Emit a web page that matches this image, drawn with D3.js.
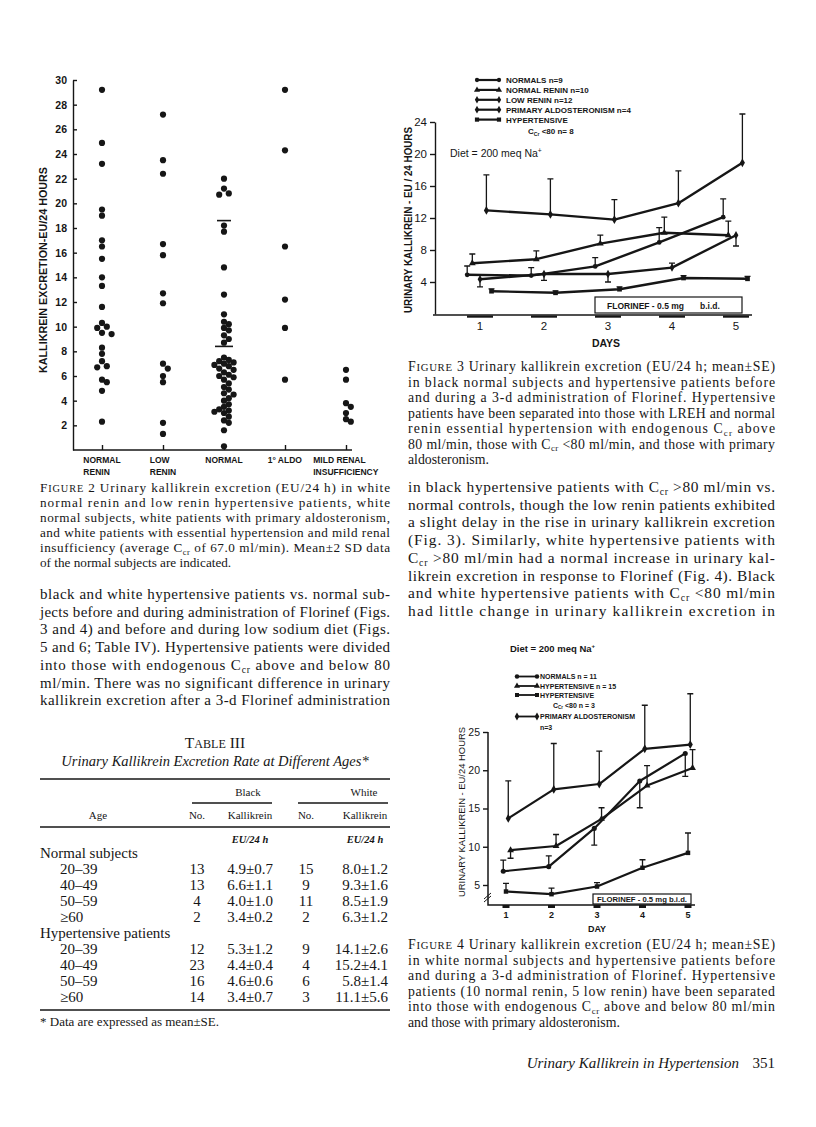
<!DOCTYPE html>
<html>
<head>
<meta charset="utf-8">
<script src="https://cdnjs.cloudflare.com/ajax/libs/d3/7.8.5/d3.min.js"></script>
<style>
  body { margin: 0; background: #fff; }
</style>
</head>
<body>
<div id="page"></div>
<script>
// ---- figure 2 : kallikrein excretion, EU/24 h, one array per group ----
var fig2Labels = [["NORMAL", "RENIN"], ["LOW", "RENIN"], ["NORMAL"], ["1° ALDO"], ["MILD RENAL", "INSUFFICIENCY"]];
var normalReninVals = [29.2, 24.9, 23.2, 19.5, 19.0, 17.0, 16.5, 15.5, 14.0, 13.3, 11.6, 10.3, 10.0, 9.9, 9.5, 9.4, 8.3, 7.8, 7.2, 6.8, 6.7, 5.7, 5.5, 4.8, 2.3];
var lowReninVals = [27.2, 23.5, 22.4, 16.7, 15.8, 12.7, 11.9, 7.0, 6.6, 6.0, 5.5, 2.2, 1.3];
var normalVals = [22.0, 21.2, 20.8, 20.7, 18.2, 17.7, 14.8, 12.6, 11.0, 10.4, 10.2, 9.9, 9.7, 9.3, 9.0, 8.7,
  7.5, 7.3, 7.2, 7.1, 7.0, 6.9, 6.8, 6.6, 6.5, 6.3, 6.1, 6.0, 5.9, 5.7, 5.4, 5.1, 4.9, 4.6, 4.5, 4.2, 4.0,
  3.7, 3.5, 3.3, 3.2, 3.1, 3.0, 2.7, 2.4, 2.2, 1.6, 0.3];
var aldoVals = [29.2, 24.3, 16.5, 12.2, 9.9, 5.7];
var renalVals = [6.5, 5.7, 3.8, 3.5, 3.0, 2.5, 2.3];
var fig2Ticks = d3.range(2, 31, 2);
var normalMean = 8.4;
var normalTwoSD = 10.2;

// ---- figure 3 : black subjects, mean and SE (negative SE = bar drawn below) ----
var days = [1, 2, 3, 4, 5];
var fig3Names = ["NORMALS  n=9", "NORMAL RENIN  n=10", "LOW RENIN  n=12", "PRIMARY ALDOSTERONISM  n=4", "HYPERTENSIVE"];
var fig3Normals = [4.9, 4.8, 5.95, 8.95, 12.1];
var fig3NormalsSE = [1.1, 1.0, 1.1, 1.85, 2.3];
var fig3NormalRenin = [6.35, 6.85, 8.8, 10.15, 9.85];
var fig3NormalReninSE = [1.15, 1.05, 1.05, 1.95, 1.75];
var fig3LowRenin = [4.35, 5.0, 5.0, 5.8, 9.85];
var fig3LowReninSE = [-0.95, -0.8, -1.0, 0.55, -1.35];
var fig3Aldo = [12.95, 12.45, 11.8, 13.85, 18.9];
var fig3AldoSE = [4.45, 4.45, 2.5, 4.05, 6.1];
var fig3LowCcr = [2.85, 2.65, 3.1, 4.5, 4.4];
var fig3LowCcrSE = [0.3, 0.25, 0.3, 0.3, 0.3];
var fig3Ticks = [4, 8, 12, 16, 20, 24];

// ---- figure 4 : white subjects ----
var fig4Names = ["NORMALS  n = 11", "HYPERTENSIVE  n = 15", "HYPERTENSIVE", "PRIMARY ALDOSTERONISM"];
var fig4Normals = [6.8, 7.4, 12.4, 18.6, 22.2];
var fig4NormalsSE = [1.45, 1.4, -2.2, -3.5, -3.0];
var fig4Hyper = [9.55, 10.1, 13.65, 18.0, 20.3];
var fig4HyperSE = [-1.05, 1.5, 1.45, 2.6, 2.4];
var fig4LowCcr = [4.15, 3.8, 4.8, 7.25, 9.2];
var fig4LowCcrSE = [1.05, 0.8, 0.5, 1.05, 2.6];
var fig4Aldo = [13.7, 17.5, 18.2, 22.8, 23.35];
var fig4AldoSE = [4.9, 6.0, 4.3, 5.7, 6.65];
var fig4Ticks = [5, 10, 15, 20, 25];

// ---- table III ----
var ageGroups = ["20–39", "40–49", "50–59", "≥60"];
var normBlackN = [13, 13, 4, 2];
var normBlackMean = [4.9, 6.6, 4.0, 3.4];
var normBlackSE = [0.7, 1.1, 1.0, 0.2];
var normWhiteN = [15, 9, 11, 2];
var normWhiteMean = [8.0, 9.3, 8.5, 6.3];
var normWhiteSE = [1.2, 1.6, 1.9, 1.2];
var hypBlackN = [12, 23, 16, 14];
var hypBlackMean = [5.3, 4.4, 4.6, 3.4];
var hypBlackSE = [1.2, 0.4, 0.6, 0.7];
var hypWhiteN = [9, 4, 6, 3];
var hypWhiteMean = [14.1, 15.2, 5.8, 11.1];
var hypWhiteSE = [2.6, 4.1, 1.4, 5.6];

// ---- running text (_{..} subscript, ^{..} superscript, ~{..} small caps) ----
var fig2Caption = [
  "F~{IGURE} 2   Urinary kallikrein excretion (EU/24 h) in white",
  "normal renin and low renin hypertensive patients, white",
  "normal subjects, white patients with primary aldosteronism,",
  "and white patients with essential hypertension and mild renal",
  "insufficiency (average C_{cr} of 67.0 ml/min). Mean±2 SD data",
  "of the normal subjects are indicated."];
var leftBody = [
  "black and white hypertensive patients vs. normal sub-",
  "jects before and during administration of Florinef (Figs.",
  "3 and 4) and before and during low sodium diet (Figs.",
  "5 and 6; Table IV). Hypertensive patients were divided",
  "into those with endogenous C_{cr} above and below 80",
  "ml/min. There was no significant difference in urinary",
  "kallikrein excretion after a 3-d Florinef administration"];
var fig3Caption = [
  "F~{IGURE} 3   Urinary kallikrein excretion (EU/24 h; mean±SE)",
  "in black normal subjects and hypertensive patients before",
  "and during a 3-d administration of Florinef. Hypertensive",
  "patients have been separated into those with LREH and normal",
  "renin essential hypertension with endogenous C_{cr} above",
  "80 ml/min, those with C_{cr} <80 ml/min, and those with primary",
  "aldosteronism."];
var rightBody = [
  "in black hypertensive patients with C_{cr} >80 ml/min vs.",
  "normal controls, though the low renin patients exhibited",
  "a slight delay in the rise in urinary kallikrein excretion",
  "(Fig. 3). Similarly, white hypertensive patients with",
  "C_{cr} >80 ml/min had a normal increase in urinary kal-",
  "likrein excretion in response to Florinef (Fig. 4). Black",
  "and white hypertensive patients with C_{cr} <80 ml/min",
  "had little change in urinary kallikrein excretion in"];
var fig4Caption = [
  "F~{IGURE} 4   Urinary kallikrein excretion (EU/24 h; mean±SE)",
  "in white normal subjects and hypertensive patients before",
  "and during a 3-d administration of Florinef. Hypertensive",
  "patients (10 normal renin, 5 low renin) have been separated",
  "into those with endogenous C_{cr} above and below 80 ml/min",
  "and those with primary aldosteronism."];

var ink = "#161616";
var serif = '"Liberation Serif", "Times New Roman", serif';
var sans = '"Liberation Sans", Arial, sans-serif';

var svg = d3.select("#page").append("svg")
  .attr("width", 816)
  .attr("height", 1127);

svg.append("rect").attr("width", 816).attr("height", 1127).attr("fill", "#fff");

//write a string with the little markup into a text element
function richText(sel, str, size) {
  var shift = 0;
  str.split(/([_~^]\{[^}]*\})/).forEach(function(p) {
    if (!p) return;
    var m = p.match(/^([_~^])\{([^}]*)\}$/);
    var t = sel.append("tspan");
    if (!m) {
      t.attr("dy", -shift).text(p);
      shift = 0;
    }
    else if (m[1] === "~") {
      t.attr("dy", -shift).attr("font-size", size * 0.78).text(m[2]);
      shift = 0;
    }
    else {
      var s = m[1] === "_" ? size * 0.2 : -size * 0.4;
      t.attr("dy", s - shift).attr("font-size", size * 0.64).text(m[2]);
      shift = s;
    }
  });
  return sel;
}

//justified block of serif text
function textBlock(lines, x, y0, lead, width, size, justifyLast) {
  lines.forEach(function(line, i) {
    var t = svg.append("text")
      .attr("x", x)
      .attr("y", y0 + i * lead)
      .attr("font-family", serif)
      .attr("font-size", size)
      .attr("fill", ink);
    richText(t, line, size);
    if (i < lines.length - 1 || justifyLast) {
      t.attr("textLength", width).attr("lengthAdjust", "spacing");
    }
  });
}

function styleAxis(g, size, weight) {
  g.attr("font-family", sans)
    .attr("font-size", size)
    .attr("font-weight", weight);
  g.selectAll("path, line").attr("stroke", ink).attr("stroke-width", 1.4);
  g.selectAll("text").attr("fill", ink);
}

function sansText(g, x, y, str, size, weight) {
  var t = g.append("text")
    .attr("x", x)
    .attr("y", y)
    .attr("font-family", sans)
    .attr("font-size", size)
    .attr("font-weight", weight || "bold")
    .attr("fill", ink);
  return richText(t, str, size);
}

// ================= FIGURE 2 =================
var fig2 = svg.append("g");
var f2y = d3.scaleLinear().domain([0, 30]).range([450, 80]);
var f2x = d3.scalePoint().domain(d3.range(fig2Labels.length)).range([102, 346]);

fig2.append("g")
  .attr("transform", "translate(73,0)")
  .call(d3.axisLeft(f2y).tickValues(fig2Ticks).tickSizeInner(-4).tickSizeOuter(0).tickPadding(6))
  .call(styleAxis, 10.5, "bold");

fig2.append("line")
  .attr("x1", 73).attr("x2", 352)
  .attr("y1", f2y(0)).attr("y2", f2y(0))
  .attr("stroke", ink).attr("stroke-width", 1.4);

fig2.append("g")
  .attr("transform", `translate(0,${f2y(0)})`)
  .call(d3.axisBottom(f2x).tickSizeInner(-5).tickSizeOuter(0).tickFormat(""))
  .call(function(g) { g.select(".domain").remove(); })
  .call(styleAxis, 10, "bold");

fig2.append("text")
  .attr("transform", "translate(47,270) rotate(-90)")
  .attr("text-anchor", "middle")
  .attr("font-family", sans)
  .attr("font-weight", "bold")
  .attr("font-size", 10)
  .attr("fill", ink)
  .attr("textLength", 206)
  .attr("lengthAdjust", "spacingAndGlyphs")
  .text("KALLIKREIN EXCRETION-EU/24 HOURS");

//category labels, left aligned block centred on the column
fig2Labels.forEach(function(lines, i) {
  var t = fig2.append("text")
    .attr("y", 463)
    .attr("font-family", sans)
    .attr("font-weight", "bold")
    .attr("font-size", 8.5)
    .attr("fill", ink);
  lines.forEach(function(s, j) {
    t.append("tspan").attr("x", 0).attr("dy", j ? 11.5 : 0).text(s);
  });
  var w = t.node().getBBox().width;
  t.selectAll("tspan").attr("x", f2x(i) - w / 2);
});

//dodge overlapping dots sideways like a hand plot
function swarm(vals, cx) {
  var placed = [];
  var lanes = [0, 1, -1, 2, -2, 3, -3];
  return vals.slice().sort(d3.descending).map(function(v) {
    var cy = f2y(v);
    var k = 0;
    for (k = 0; k < lanes.length - 1; k++) {
      var x = cx + lanes[k] * 4.8;
      var hit = placed.some(function(p) { return Math.hypot(p.x - x, p.y - cy) < 5.2; });
      if (!hit) break;
    }
    var pt = {x: cx + lanes[k] * 4.8, y: cy};
    placed.push(pt);
    return pt;
  });
}

var fig2Groups = [normalReninVals, lowReninVals, normalVals, aldoVals, renalVals];
fig2Groups.forEach(function(vals, i) {
  fig2.selectAll(null)
    .data(swarm(vals, f2x(i)))
    .enter()
    .append("circle")
    .attr("cx", d => d.x)
    .attr("cy", d => d.y)
    .attr("r", 3.1)
    .attr("fill", ink);
});

//mean and mean + 2 SD of the normals
[[normalMean, 18], [normalMean + normalTwoSD, 14]].forEach(function(m) {
  fig2.append("line")
    .attr("x1", f2x(2) - m[1] / 2).attr("x2", f2x(2) + m[1] / 2)
    .attr("y1", f2y(m[0])).attr("y2", f2y(m[0]))
    .attr("stroke", ink).attr("stroke-width", 1.6);
});

// ============ shared drawing for figures 3 and 4 ============
function drawSeries(g, xs, ys, series, lw, cap) {
  series.forEach(function(s) {
    var pts = s.vals.map(function(v, i) {
      return {day: days[i] + s.off, v: v, se: s.se[i]};
    });
    g.append("path")
      .datum(pts)
      .attr("d", d3.line().x(d => xs(d.day)).y(d => ys(d.v)))
      .attr("fill", "none")
      .attr("stroke", ink)
      .attr("stroke-width", lw)
      .attr("stroke-linejoin", "round");
    g.selectAll(null)
      .data(pts)
      .enter()
      .append("path")
      .attr("d", function(d) {
        var x = xs(d.day), y0 = ys(d.v), y1 = ys(d.v + d.se);
        return `M${x},${y0}V${y1}M${x - cap},${y1}H${x + cap}`;
      })
      .attr("fill", "none")
      .attr("stroke", ink)
      .attr("stroke-width", 1.3);
    g.selectAll(null)
      .data(pts)
      .enter()
      .append("path")
      .attr("transform", d => `translate(${xs(d.day)},${ys(d.v)})`)
      .attr("d", d3.symbol().type(s.symbol).size(s.size))
      .attr("fill", ink);
  });
}

function legendRow(g, x1, x2, y, s, lw) {
  g.append("line")
    .attr("x1", x1).attr("x2", x2)
    .attr("y1", y).attr("y2", y)
    .attr("stroke", ink).attr("stroke-width", lw);
  [x1, x2].forEach(function(x) {
    g.append("path")
      .attr("transform", `translate(${x},${y})`)
      .attr("d", d3.symbol().type(s.symbol).size(s.size * 0.8))
      .attr("fill", ink);
  });
}

// ================= FIGURE 3 =================
var fig3 = svg.append("g");
var f3x = d3.scaleLinear().domain([1, 5]).range([480, 736]);
var f3y = d3.scaleLinear().domain([0, 24]).range([314, 122]);

var fig3Series = [
  {vals: fig3Normals, se: fig3NormalsSE, off: -0.2, symbol: d3.symbolCircle, size: 18},
  {vals: fig3NormalRenin, se: fig3NormalReninSE, off: -0.12, symbol: d3.symbolTriangle, size: 20},
  {vals: fig3LowRenin, se: fig3LowReninSE, off: 0, symbol: d3.symbolDiamond, size: 20},
  {vals: fig3Aldo, se: fig3AldoSE, off: 0.1, symbol: d3.symbolDiamond, size: 22},
  {vals: fig3LowCcr, se: fig3LowCcrSE, off: 0.18, symbol: d3.symbolSquare, size: 22}
];

fig3.append("g")
  .attr("transform", "translate(435,0)")
  .call(d3.axisLeft(f3y).tickValues(fig3Ticks).tickSizeInner(5).tickSizeOuter(0).tickPadding(3))
  .call(styleAxis, 11.5, "normal");

fig3.append("line")
  .attr("x1", 433).attr("x2", 752)
  .attr("y1", 315).attr("y2", 315)
  .attr("stroke", ink).attr("stroke-width", 1.6);

fig3.selectAll(null)
  .data(days)
  .enter()
  .append("rect")
  .attr("x", d => f3x(d) - 13)
  .attr("y", 315.5)
  .attr("width", 26)
  .attr("height", 2.2)
  .attr("fill", ink);

fig3.selectAll(null)
  .data(days)
  .enter()
  .append("text")
  .attr("x", d => f3x(d))
  .attr("y", 330)
  .attr("text-anchor", "middle")
  .attr("font-family", sans)
  .attr("font-size", 11.5)
  .attr("fill", ink)
  .text(d => d);

sansText(fig3, 606, 347, "DAYS", 10.5).attr("text-anchor", "middle");

fig3.append("text")
  .attr("transform", "translate(412,220) rotate(-90)")
  .attr("text-anchor", "middle")
  .attr("font-family", sans)
  .attr("font-weight", "bold")
  .attr("font-size", 10)
  .attr("fill", ink)
  .attr("textLength", 186)
  .attr("lengthAdjust", "spacingAndGlyphs")
  .text("URINARY KALLIKREIN - EU / 24 HOURS");

//florinef box
fig3.append("rect")
  .attr("x", 595).attr("y", 297)
  .attr("width", 147).attr("height", 16)
  .attr("fill", "#fff")
  .attr("stroke", ink).attr("stroke-width", 1.2);
sansText(fig3, 607, 309, "FLORINEF  -  0.5 mg", 8.5);
sansText(fig3, 700, 309, "b.i.d.", 8.5);

drawSeries(fig3, f3x, f3y, fig3Series, 2.4, 3);

fig3Series.forEach(function(s, i) {
  var y = 83 + i * 9.9;
  legendRow(fig3, 477, 499, y - 3, s, 2.2);
  sansText(fig3, 506, y, fig3Names[i], 8);
});
sansText(fig3, 528, 134, "C_{Cr} <80  n= 8", 8);
sansText(fig3, 450, 157, "Diet = 200 meq  Na^{+}", 10.5, "normal");

// ================= FIGURE 4 =================
var fig4 = svg.append("g");
var f4x = d3.scaleLinear().domain([1, 5]).range([506, 688]);
var f4y = d3.scaleLinear().domain([5, 25]).range([885, 732]);

var fig4Series = [
  {vals: fig4Normals, se: fig4NormalsSE, off: -0.06, symbol: d3.symbolCircle, size: 20},
  {vals: fig4Hyper, se: fig4HyperSE, off: 0.1, symbol: d3.symbolTriangle, size: 20},
  {vals: fig4LowCcr, se: fig4LowCcrSE, off: 0, symbol: d3.symbolSquare, size: 20},
  {vals: fig4Aldo, se: fig4AldoSE, off: 0.05, symbol: d3.symbolDiamond, size: 22}
];

fig4.append("g")
  .attr("transform", "translate(488,0)")
  .call(d3.axisLeft(f4y).tickValues(fig4Ticks).tickSizeInner(5).tickSizeOuter(0).tickPadding(3))
  .call(function(g) { g.select(".domain").remove(); })
  .call(styleAxis, 10.5, "normal");

//axis runs below 5 with a break mark
fig4.append("path")
  .attr("d", `M488,${f4y(25)}V905H695`)
  .attr("fill", "none")
  .attr("stroke", ink)
  .attr("stroke-width", 1.5);
fig4.append("path")
  .attr("d", "M484,902L491,896M484,899L491,893")
  .attr("stroke", ink)
  .attr("stroke-width", 1);

fig4.selectAll(null)
  .data(days)
  .enter()
  .append("rect")
  .attr("x", d => f4x(d) - 3.5)
  .attr("y", 905)
  .attr("width", 7)
  .attr("height", 3)
  .attr("fill", ink);

fig4.selectAll(null)
  .data(days)
  .enter()
  .append("text")
  .attr("x", d => f4x(d))
  .attr("y", 918)
  .attr("text-anchor", "middle")
  .attr("font-family", sans)
  .attr("font-weight", "bold")
  .attr("font-size", 9)
  .attr("fill", ink)
  .text(d => d);

sansText(fig4, 597, 932, "DAY", 9).attr("text-anchor", "middle");

fig4.append("text")
  .attr("transform", "translate(465,812) rotate(-90)")
  .attr("text-anchor", "middle")
  .attr("font-family", sans)
  .attr("font-size", 9.5)
  .attr("fill", ink)
  .attr("textLength", 170)
  .attr("lengthAdjust", "spacingAndGlyphs")
  .text("URINARY  KALLIKREIN - EU/24 HOURS");

fig4.append("rect")
  .attr("x", 593).attr("y", 894)
  .attr("width", 98).attr("height", 10)
  .attr("fill", "#fff")
  .attr("stroke", ink).attr("stroke-width", 1.2);
sansText(fig4, 597, 902, "FLORINEF - 0.5 mg  b.i.d.", 7.5)
  .attr("textLength", 90)
  .attr("lengthAdjust", "spacingAndGlyphs");

drawSeries(fig4, f4x, f4y, fig4Series, 2.2, 3);

//legend, rows are not evenly spaced in the original
var fig4LegendY = [679, 688.5, 697.5, 719];
fig4Series.forEach(function(s, i) {
  legendRow(fig4, 517, 537, fig4LegendY[i] - 2.5, s, 1.8);
  sansText(fig4, 540, fig4LegendY[i], fig4Names[i], 7);
});
sansText(fig4, 553, 708, "C_{Cr} <80  n = 3", 7);
sansText(fig4, 540, 730, "n=3", 7);
sansText(fig4, 510, 652, "Diet = 200 meq  Na^{+}", 9.5);

// ================= TABLE III =================
var table = svg.append("g");
var tRight = 390;

function tText(x, y, str, size, anchor, style) {
  var t = table.append("text")
    .attr("x", x)
    .attr("y", y)
    .attr("font-family", serif)
    .attr("font-size", size)
    .attr("text-anchor", anchor || "start")
    .attr("fill", ink);
  if (style === "italic") t.attr("font-style", "italic");
  if (style === "unit") t.attr("font-style", "italic").attr("font-weight", "bold");
  return richText(t, str, size);
}

function rule(x1, x2, y, w) {
  table.append("line")
    .attr("x1", x1).attr("x2", x2)
    .attr("y1", y).attr("y2", y)
    .attr("stroke", ink).attr("stroke-width", w);
}

tText(215, 748, "T~{ABLE} III", 15.5, "middle");
tText(215, 766, "Urinary Kallikrein Excretion Rate at Different Ages*", 14.5, "middle", "italic");
rule(40, tRight, 779, 1.6);
tText(248, 796, "Black", 11, "middle");
tText(364, 796, "White", 11, "middle");
rule(192, 272, 803, 1.3);
rule(298, 388, 803, 1.3);
tText(98, 819, "Age", 11, "middle");
tText(197, 819, "No.", 11, "middle");
tText(250, 819, "Kallikrein", 11, "middle");
tText(306, 819, "No.", 11, "middle");
tText(365, 819, "Kallikrein", 11, "middle");
rule(40, tRight, 827, 1.6);
tText(250, 843, "EU/24 h", 10.5, "middle", "unit");
tText(365, 843, "EU/24 h", 10.5, "middle", "unit");

function tableBlock(title, y0, bN, bM, bS, wN, wM, wS) {
  tText(40, y0, title, 15);
  ageGroups.forEach(function(a, i) {
    var y = y0 + 16 * (i + 1);
    tText(60, y, a, 15);
    tText(197, y, String(bN[i]), 15, "middle");
    tText(273, y, bM[i].toFixed(1) + "±" + bS[i].toFixed(1), 15, "end");
    tText(306, y, String(wN[i]), 15, "middle");
    tText(388, y, wM[i].toFixed(1) + "±" + wS[i].toFixed(1), 15, "end");
  });
}
tableBlock("Normal subjects", 858, normBlackN, normBlackMean, normBlackSE, normWhiteN, normWhiteMean, normWhiteSE);
tableBlock("Hypertensive patients", 938, hypBlackN, hypBlackMean, hypBlackSE, hypWhiteN, hypWhiteMean, hypWhiteSE);
rule(40, tRight, 1010, 1.6);
tText(40, 1026, "* Data are expressed as mean±SE.", 13);

// ================= running text =================
var rightX = 408, rightW = 367;
textBlock(fig2Caption, 40, 492, 15, 350, 13.2, false);
textBlock(leftBody, 40, 599, 17.7, 350, 15, true);
textBlock(fig3Caption, rightX, 371, 15.5, rightW, 13.8, false);
textBlock(rightBody, rightX, 492, 17.7, rightW, 15.4, true);
textBlock(fig4Caption, rightX, 949, 15.5, rightW, 13.8, false);

svg.append("text")
  .attr("x", rightX + rightW - 36)
  .attr("y", 1068)
  .attr("text-anchor", "end")
  .attr("font-family", serif)
  .attr("font-style", "italic")
  .attr("font-size", 15)
  .attr("fill", ink)
  .text("Urinary Kallikrein in Hypertension");
svg.append("text")
  .attr("x", rightX + rightW)
  .attr("y", 1068)
  .attr("text-anchor", "end")
  .attr("font-family", serif)
  .attr("font-size", 15)
  .attr("fill", ink)
  .text("351");
</script>
</body>
</html>
